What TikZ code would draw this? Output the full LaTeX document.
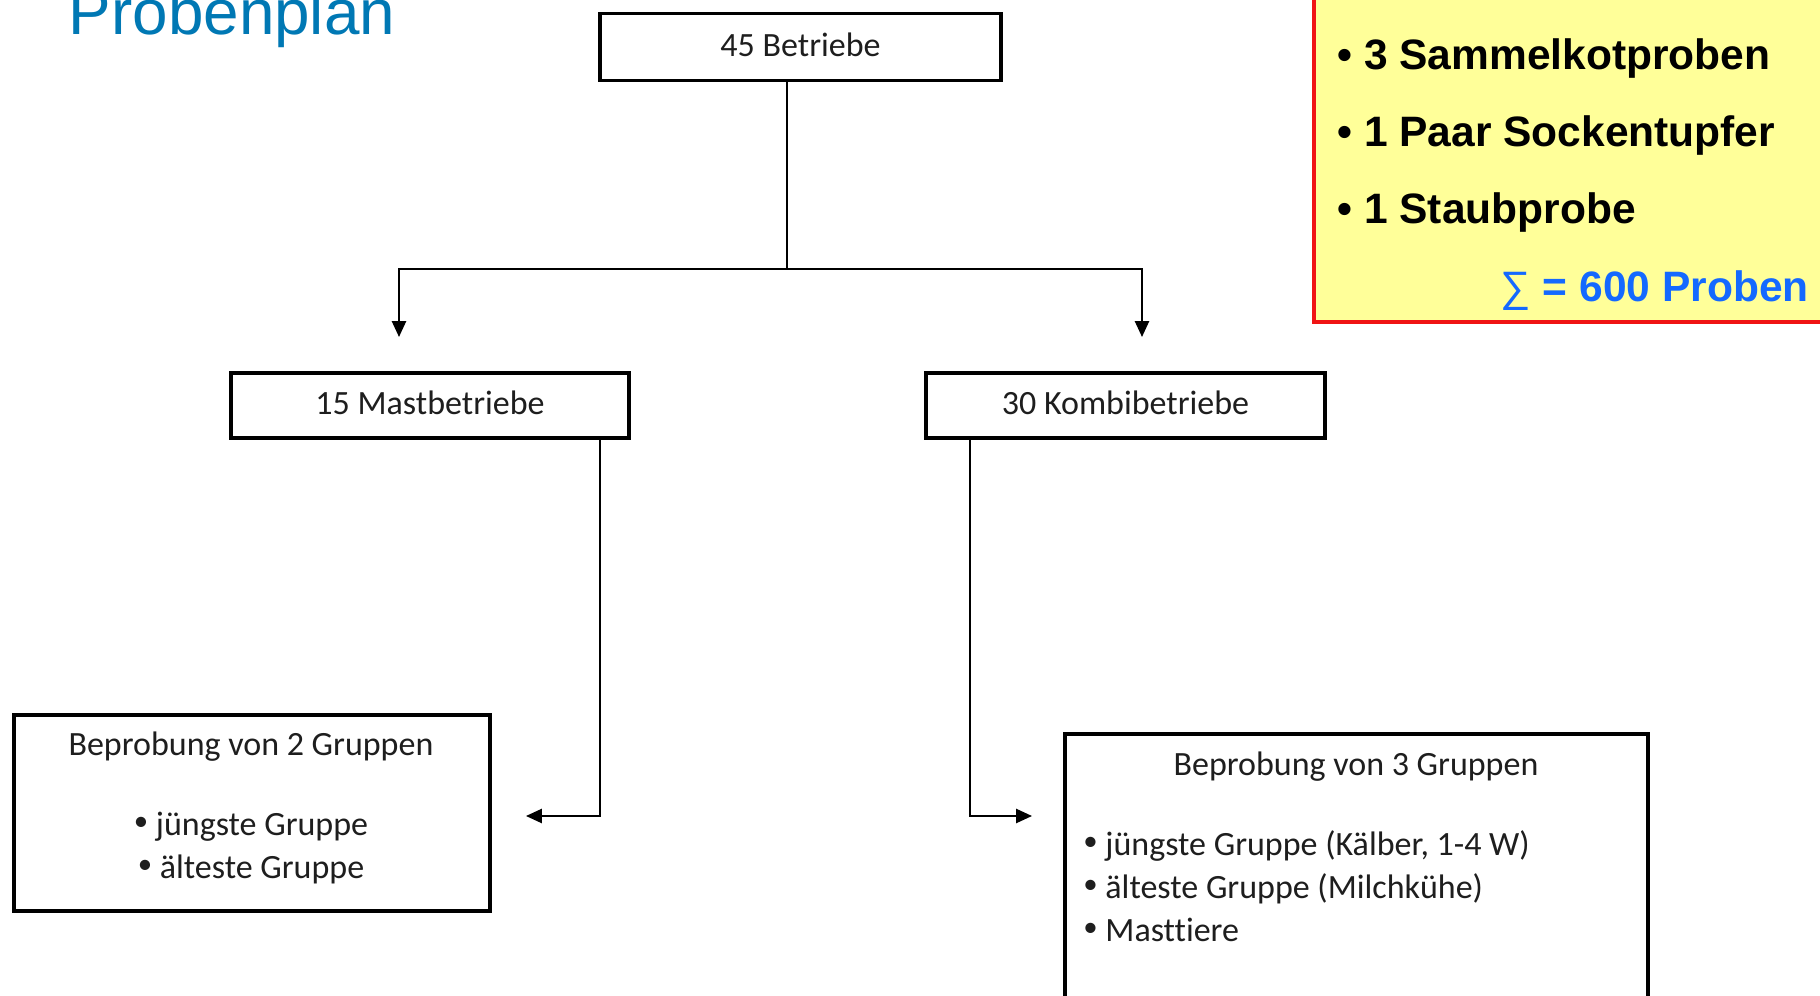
\documentclass[tikz,border=0pt]{standalone}
\usepackage{fontspec}
\usepackage{graphicx}
\setmainfont{Carlito}[Ligatures=NoCommon]
\newfontfamily\arialf{Liberation Sans}
\usetikzlibrary{arrows.meta}
\definecolor{titleblue}{RGB}{0,120,180}
\definecolor{sumblue}{RGB}{20,105,255}
\definecolor{noteyellow}{RGB}{255,255,153}
\definecolor{notered}{RGB}{240,20,20}
\definecolor{txt}{RGB}{30,30,30}
\newcommand\mybul{\raisebox{0.3ex}{\scalebox{0.85}{\textbullet}}}
\begin{document}
\begin{tikzpicture}[x=0.02cm,y=-0.02cm,
 box/.style={draw=black, line width=2.2pt, fill=white, inner sep=0pt, font=\fontsize{19.35}{23}\selectfont, text=txt},
 conn/.style={line width=1.15pt, draw=black},
 arr/.style={conn, -{Triangle[length=9pt,width=8pt]}},
 boxtext/.style={inner sep=0pt, font=\fontsize{19.35}{23}\selectfont, text=txt},
 notetext/.style={inner sep=0pt, font=\arialf\bfseries\fontsize{24.2}{29}\selectfont},
]
\useasboundingbox (0,0) rectangle (1820,996);
\clip (0,0) rectangle (1820,996);
\fill[white] (0,0) rectangle (1820,996);

% title
\node[anchor=base west, inner sep=0pt, text=titleblue, font=\arialf\fontsize{36.3}{40}\selectfont] (title) at (68.5,35) {Probenplan};

% note box
\node[draw=notered, fill=noteyellow, line width=2pt, inner sep=0pt, minimum width=536*0.02cm, minimum height=342*0.02cm] (note) at (1582,151) {};
\node[notetext, anchor=base west] (n1) at (1337,70) {\textbullet\ 3 Sammelkotproben};
\node[notetext, anchor=base west] (n2) at (1337,147) {\textbullet\ 1 Paar Sockentupfer};
\node[notetext, anchor=base west] (n3) at (1337,224) {\textbullet\ 1 Staubprobe};
\node[notetext, anchor=base east, text=sumblue] (sum) at (1809,302) {{\mdseries ∑} = 600 Proben};

% boxes
\node[box, minimum width=401*0.02cm, minimum height=67*0.02cm] (top) at (800.5,47) {\raisebox{0.1cm}{45 Betriebe}};
\node[box, minimum width=398*0.02cm, minimum height=65*0.02cm] (mast) at (430,405.5) {\raisebox{0.1cm}{15 Mastbetriebe}};
\node[box, minimum width=399*0.02cm, minimum height=65*0.02cm] (kombi) at (1125.5,405.5) {\raisebox{0.1cm}{30 Kombibetriebe}};
\node[box, minimum width=476*0.02cm, minimum height=196*0.02cm] (gl) at (252,813) {};
\node[box, minimum width=583*0.02cm, minimum height=364*0.02cm] (gr) at (1356.5,916) {};

% box texts
\node[boxtext, anchor=base] (l0) at (251,756) {Beprobung von 2 Gruppen};
\node[boxtext, anchor=base] (l1) at (251,835) {\mybul\ jüngste Gruppe};
\node[boxtext, anchor=base] (l2) at (251,878) {\mybul\ älteste Gruppe};
\node[boxtext, anchor=base] (r0) at (1356,776) {Beprobung von 3 Gruppen};
\node[boxtext, anchor=base west] (r1) at (1083,855) {\mybul\ jüngste Gruppe (Kälber, 1-4 W)};
\node[boxtext, anchor=base west] (r2) at (1083,898) {\mybul\ älteste Gruppe (Milchkühe)};
\node[boxtext, anchor=base west] (r3) at (1083,941) {\mybul\ Masttiere};

% connectors
\coordinate (j) at (787,269);
\coordinate (tl) at (399,337);
\coordinate (tr) at (1142,337);
\draw[conn] (top.south -| j) -- (j);
\draw[arr] (j) -| (tl);
\draw[arr] (j) -| (tr);
\coordinate (ml) at (600,816);
\coordinate (mt) at (526,816);
\draw[arr] (mast.south -| ml) |- (mt);
\coordinate (kl) at (970,816);
\coordinate (kt) at (1032,816);
\draw[arr] (kombi.south -| kl) |- (kt);
\end{tikzpicture}
\end{document}
